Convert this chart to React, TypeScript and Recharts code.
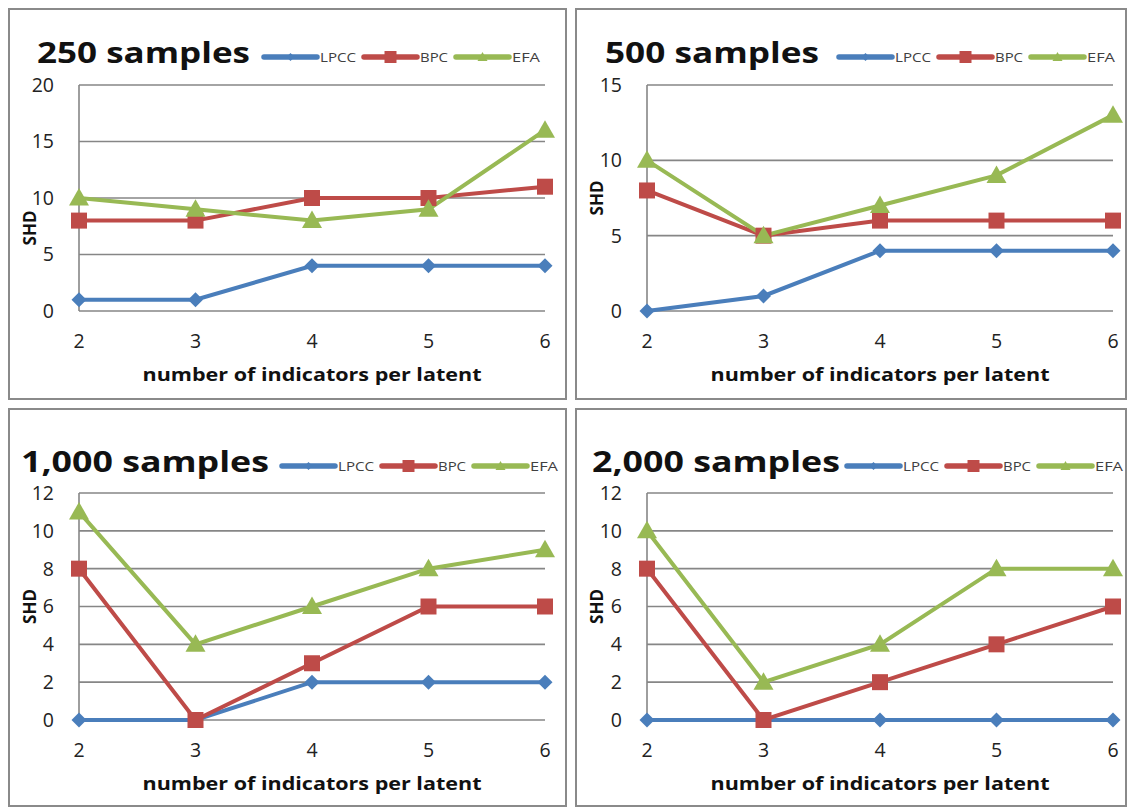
import React from 'react';
import { LineChart, Line, XAxis, YAxis, CartesianGrid, Legend } from 'recharts';

const indicators = [2, 3, 4, 5, 6];
const seriesNames = ['LPCC', 'BPC', 'EFA'];

const lpcc250 = [1, 1, 4, 4, 4];
const bpc250 = [8, 8, 10, 10, 11];
const efa250 = [10, 9, 8, 9, 16];

const lpcc500 = [0, 1, 4, 4, 4];
const bpc500 = [8, 5, 6, 6, 6];
const efa500 = [10, 5, 7, 9, 13];

const lpcc1000 = [0, 0, 2, 2, 2];
const bpc1000 = [8, 0, 3, 6, 6];
const efa1000 = [11, 4, 6, 8, 9];

const lpcc2000 = [0, 0, 0, 0, 0];
const bpc2000 = [8, 0, 2, 4, 6];
const efa2000 = [10, 2, 4, 8, 8];

const yTicks250 = [0, 5, 10, 15, 20];
const yTicks500 = [0, 5, 10, 15];
const yTicks1000 = [0, 2, 4, 6, 8, 10, 12];
const yTicks2000 = [0, 2, 4, 6, 8, 10, 12];

const titles = ['250 samples', '500 samples', '1,000 samples', '2,000 samples'];
const xLabel = 'number of indicators per latent';
const yLabel = 'SHD';

const COLORS: Record<string, string> = { LPCC: '#4a7ebb', BPC: '#be4b48', EFA: '#98b954' };
const LEGEND_TEXT_W: Record<string, number> = { LPCC: 36, BPC: 28, EFA: 28 };
const FONT = '"Open Sans", "Liberation Sans", sans-serif';
const GRID = '#868686';

function buildRows(a: number[], b: number[], c: number[]) {
  return indicators.map((x, i) => ({ x, LPCC: a[i], BPC: b[i], EFA: c[i] }));
}

function markerPath(name: string, cx: number, cy: number) {
  if (name === 'LPCC') {
    const r = 7.5;
    return `M${cx},${cy - r}L${cx + r},${cy}L${cx},${cy + r}L${cx - r},${cy}Z`;
  }
  if (name === 'BPC') {
    const h = 8;
    return `M${cx - h},${cy - h}L${cx + h},${cy - h}L${cx + h},${cy + h}L${cx - h},${cy + h}Z`;
  }
  const s = 10;
  return `M${cx},${cy - s}L${cx + s},${cy + s * 0.75}L${cx - s},${cy + s * 0.75}Z`;
}

function makeDot(name: string) {
  return (props: any) => {
    const { cx, cy, index } = props;
    if (cx == null || cy == null) return <g key={`d-${name}-${index}`} />;
    return <path key={`d-${name}-${index}`} d={markerPath(name, cx, cy)} fill={COLORS[name]} />;
  };
}

function legendMarker(name: string, cx: number, cy: number) {
  if (name === 'LPCC') return `M${cx},${cy - 4}L${cx + 4},${cy}L${cx},${cy + 4}L${cx - 4},${cy}Z`;
  if (name === 'BPC') return `M${cx - 6},${cy - 6}L${cx + 6},${cy - 6}L${cx + 6},${cy + 6}L${cx - 6},${cy + 6}Z`;
  return `M${cx},${cy - 5}L${cx + 5},${cy + 4}L${cx - 5},${cy + 4}Z`;
}

type PanelCfg = {
  title: string;
  rows: any[];
  yMax: number;
  yTicks: number[];
  left: number;
  top: number;
  width: number;
  height: number;
  margin: { top: number; right: number; bottom: number; left: number };
  titleLeft: number;
  titleBaseline: number;
  titleWidth: number;
  legendLeft: number;
  legendY: number;
  shdDy: number;
};

const panels: PanelCfg[] = [
  {
    title: titles[0], rows: buildRows(lpcc250, bpc250, efa250), yMax: 20, yTicks: yTicks250,
    left: 8, top: 8, width: 559, height: 392,
    margin: { top: 77, right: 22, bottom: 59, left: 21 },
    titleLeft: 29, titleBaseline: 55, titleWidth: 213, legendLeft: 254, legendY: 49, shdDy: 30,
  },
  {
    title: titles[1], rows: buildRows(lpcc500, bpc500, efa500), yMax: 15, yTicks: yTicks500,
    left: 575, top: 8, width: 552, height: 392,
    margin: { top: 77, right: 14, bottom: 59, left: 22 },
    titleLeft: 30, titleBaseline: 55, titleWidth: 214, legendLeft: 262, legendY: 49, shdDy: 0,
  },
  {
    title: titles[2], rows: buildRows(lpcc1000, bpc1000, efa1000), yMax: 12, yTicks: yTicks1000,
    left: 8, top: 408, width: 559, height: 399,
    margin: { top: 85, right: 22, bottom: 57, left: 21 },
    titleLeft: 13, titleBaseline: 64, titleWidth: 248, legendLeft: 272, legendY: 58, shdDy: 0,
  },
  {
    title: titles[3], rows: buildRows(lpcc2000, bpc2000, efa2000), yMax: 12, yTicks: yTicks2000,
    left: 575, top: 408, width: 552, height: 399,
    margin: { top: 85, right: 14, bottom: 57, left: 22 },
    titleLeft: 17, titleBaseline: 64, titleWidth: 248, legendLeft: 270, legendY: 58, shdDy: 0,
  },
];

function HeaderLegend({ cfg }: { cfg: PanelCfg }) {
  let x = cfg.legendLeft;
  const items = seriesNames.map((n) => {
    const lx = x;
    const tx = lx + 58;
    x = tx + LEGEND_TEXT_W[n] + 6;
    return (
      <g key={n}>
        <line x1={lx + 2} y1={cfg.legendY} x2={lx + 55} y2={cfg.legendY} stroke={COLORS[n]} strokeWidth={5.5} strokeLinecap="round" />
        <path d={legendMarker(n, lx + 28.5, cfg.legendY)} fill={COLORS[n]} />
        <text
          x={tx}
          y={cfg.legendY}
          dominantBaseline="central"
          fontFamily={FONT}
          fontSize={12.5}
          fill="#404040"
          textLength={LEGEND_TEXT_W[n]}
          lengthAdjust="spacingAndGlyphs"
        >
          {n}
        </text>
      </g>
    );
  });
  return (
    <svg width={cfg.width} height={80} style={{ display: 'block' }}>
      <text
        x={cfg.titleLeft}
        y={cfg.titleBaseline}
        fontFamily={FONT}
        fontWeight={700}
        fontSize={29}
        fill="#111"
        textLength={cfg.titleWidth}
        lengthAdjust="spacingAndGlyphs"
      >
        {cfg.title}
      </text>
      {items}
    </svg>
  );
}

function Panel({ cfg }: { cfg: PanelCfg }) {
  return (
    <div
      style={{
        position: 'absolute', left: cfg.left, top: cfg.top, width: cfg.width, height: cfg.height,
        boxShadow: 'inset 0 0 0 2px #8a8a8a', background: '#fff',
      }}
    >
      <LineChart width={cfg.width} height={cfg.height} data={cfg.rows} margin={cfg.margin}>
        <CartesianGrid vertical={false} stroke={GRID} strokeWidth={1.6} />
        <XAxis
          dataKey="x"
          type="number"
          domain={[2, 6]}
          ticks={indicators}
          height={30}
          axisLine={false}
          tickLine={false}
          tickSize={0}
          tickMargin={23}
          tick={{ fontSize: 19.5, fill: '#222', fontFamily: FONT }}
          label={(p: any) => {
            const vb = p.viewBox || {};
            return (
              <text
                x={vb.x + vb.width / 2}
                y={vb.y + 70}
                textAnchor="middle"
                fontFamily={FONT}
                fontWeight={700}
                fontSize={18.5}
                fill="#111"
                textLength={339}
                lengthAdjust="spacingAndGlyphs"
              >
                {xLabel}
              </text>
            );
          }}
        />
        <YAxis
          type="number"
          domain={[0, cfg.yMax]}
          ticks={cfg.yTicks}
          width={50}
          interval={0}
          axisLine={{ stroke: GRID, strokeWidth: 1.6 }}
          tickLine={false}
          tickSize={0}
          tickMargin={25}
          tick={{ fontSize: 19.5, fill: '#222', fontFamily: FONT }}
          label={(p: any) => {
            const vb = p.viewBox || {};
            const cy = vb.y + vb.height / 2 + cfg.shdDy;
            const cx = 21;
            return (
              <text
                x={cx}
                y={cy}
                transform={`rotate(-90 ${cx} ${cy})`}
                textAnchor="middle"
                dominantBaseline="central"
                fontFamily={FONT}
                fontWeight={700}
                fontSize={17}
                fill="#111"
              >
                {yLabel}
              </text>
            );
          }}
        />
        <Legend
          layout="vertical"
          align="center"
          verticalAlign="middle"
          wrapperStyle={{ left: 0, top: 0, width: cfg.width, height: 80 }}
          content={() => <HeaderLegend cfg={cfg} />}
        />
        {seriesNames.map((n) => (
          <Line
            key={n}
            dataKey={n}
            type="linear"
            stroke={COLORS[n]}
            strokeWidth={4}
            dot={makeDot(n)}
            activeDot={false}
            isAnimationActive={false}
          />
        ))}
      </LineChart>
    </div>
  );
}

export default function App() {
  return (
    <div style={{ position: 'absolute', left: 0, top: 0, width: 1128, height: 807, background: '#fff', overflow: 'hidden' }}>
      {panels.map((p, i) => (
        <Panel key={i} cfg={p} />
      ))}
    </div>
  );
}
